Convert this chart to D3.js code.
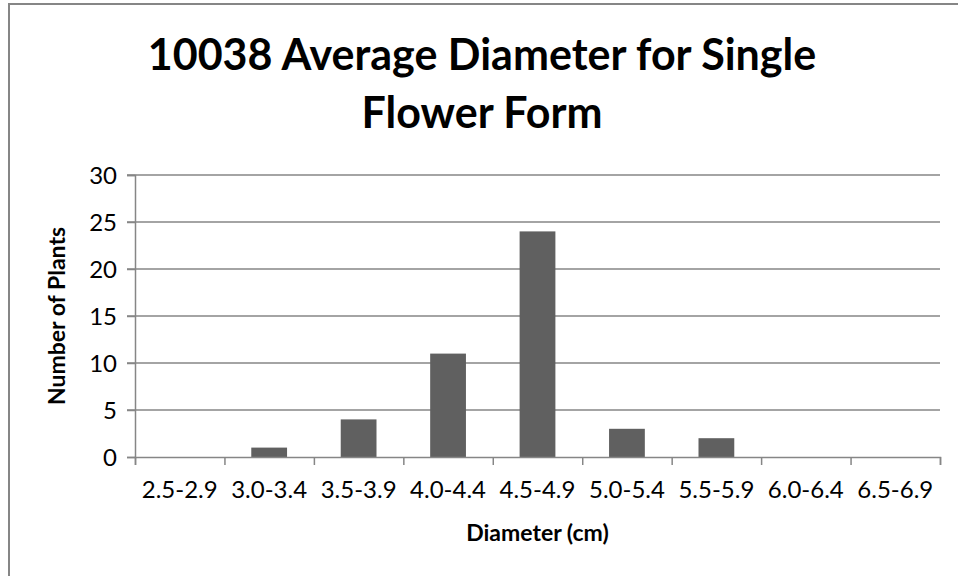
<!DOCTYPE html>
<html>
<head>
<meta charset="utf-8">
<script src="https://cdn.jsdelivr.net/npm/d3@7"></script>
<style>
  body { margin: 0; background: #fff; }
  svg { display: block; }
  text { font-family: Lato, "Open Sans", sans-serif; fill: #000; }
</style>
</head>
<body>
<div id="chart"></div>
<script>
// data
const categories = ["2.5-2.9", "3.0-3.4", "3.5-3.9", "4.0-4.4", "4.5-4.9", "5.0-5.4", "5.5-5.9", "6.0-6.4", "6.5-6.9"];
const plantCounts = [0, 1, 4, 11, 24, 3, 2, 0, 0];
const yTicks = [0, 5, 10, 15, 20, 25, 30];
const titleLines = ["10038 Average Diameter for Single", "Flower Form"];
const xTitle = "Diameter (cm)";
const yTitle = "Number of Plants";

const width = 958;
const height = 576;
const plot = { left: 135, right: 940, top: 175, bottom: 457 };
const gridColor = "#868686";

const svg = d3.select("#chart")
    .append("svg")
    .attr("width", width)
    .attr("height", height);

// outer chart frame (runs off the right and bottom of the picture)
svg.append("rect")
    .attr("x", 9)
    .attr("y", 4)
    .attr("width", 1000)
    .attr("height", 1000)
    .attr("fill", "none")
    .attr("stroke", gridColor)
    .attr("stroke-width", 2);

const x = d3.scaleBand()
    .domain(categories)
    .range([plot.left, plot.right])
    .paddingInner(0.6)
    .paddingOuter(0.3);

const y = d3.scaleLinear()
    .domain([0, 30])
    .range([plot.bottom, plot.top]);

// horizontal gridlines
svg.append("g")
    .selectAll("line")
    .data(yTicks.filter(d => d > 0))
    .enter()
    .append("line")
    .attr("x1", plot.left - 8)
    .attr("x2", plot.right)
    .attr("y1", d => y(d))
    .attr("y2", d => y(d))
    .attr("stroke", gridColor)
    .attr("stroke-width", 1.5);

// bars
svg.append("g")
    .selectAll("rect")
    .data(plantCounts)
    .enter()
    .append("rect")
    .attr("x", (d, i) => x(categories[i]))
    .attr("y", d => y(d))
    .attr("width", x.bandwidth())
    .attr("height", d => y(0) - y(d))
    .attr("fill", "#606060");

// y axis
const yAxis = svg.append("g")
    .attr("transform", `translate(${plot.left},0)`)
    .call(d3.axisLeft(y).tickValues(yTicks).tickSize(8).tickPadding(10));

// x axis: ticks on band boundaries
const xb = d3.scaleLinear().domain([0, categories.length]).range([plot.left, plot.right]);
const xAxis = svg.append("g")
    .attr("transform", `translate(0,${plot.bottom})`)
    .call(d3.axisBottom(xb).tickValues(d3.range(categories.length + 1)).tickSize(8).tickFormat(""));

[yAxis, xAxis].forEach(g => {
    g.select(".domain").attr("stroke", gridColor).attr("stroke-width", 1.5);
    g.selectAll(".tick line").attr("stroke", gridColor).attr("stroke-width", 1.5);
});
yAxis.selectAll(".tick text")
    .style("font-family", "Lato, sans-serif")
    .style("font-size", "24px")
    .attr("dy", "0.36em")
    .attr("fill", "#000");

// x tick labels centred in each band
svg.append("g")
    .selectAll("text")
    .data(categories)
    .enter()
    .append("text")
    .attr("x", d => x(d) + x.bandwidth() / 2)
    .attr("y", 498)
    .attr("text-anchor", "middle")
    .style("font-size", "24px")
    .text(d => d);

// axis titles
svg.append("text")
    .attr("x", (plot.left + plot.right) / 2)
    .attr("y", 541)
    .attr("text-anchor", "middle")
    .style("font-size", "23px")
    .style("font-weight", "bold")
    .text(xTitle);

svg.append("text")
    .attr("transform", `translate(65,${(plot.top + plot.bottom) / 2}) rotate(-90)`)
    .attr("text-anchor", "middle")
    .style("font-size", "23px")
    .style("font-weight", "bold")
    .text(yTitle);

// title
svg.append("g")
    .selectAll("text")
    .data(titleLines)
    .enter()
    .append("text")
    .attr("x", 482)
    .attr("y", (d, i) => 70 + i * 58)
    .attr("text-anchor", "middle")
    .style("font-size", "43px")
    .style("font-weight", "bold")
    .text(d => d);
</script>
</body>
</html>
